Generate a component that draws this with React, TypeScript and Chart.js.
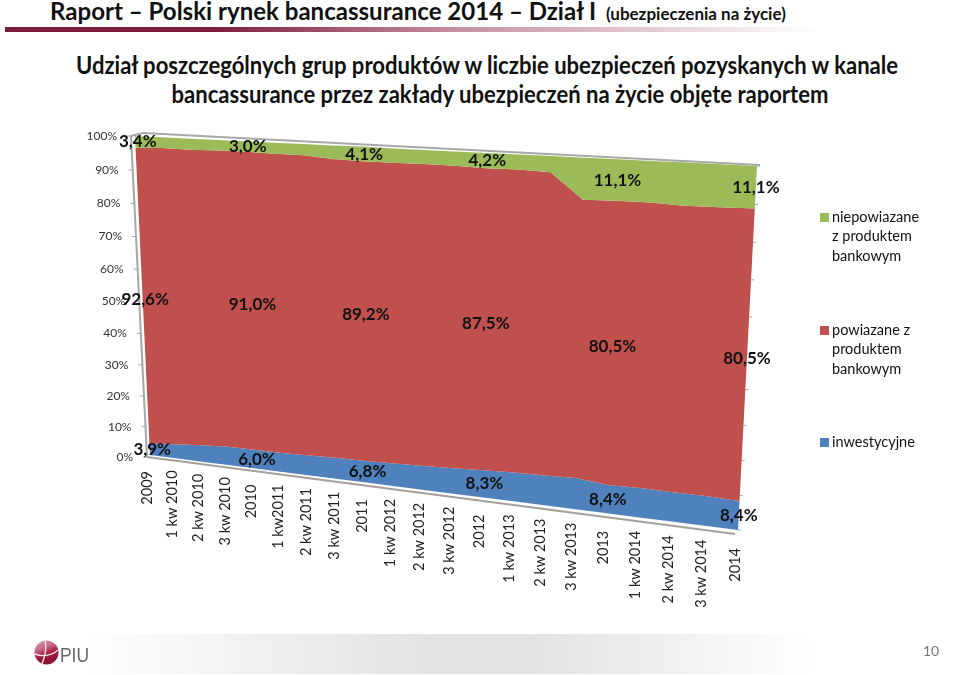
import React, { useEffect, useRef } from "react";
import { Chart, registerables } from "chart.js";

Chart.register(...registerables);

const categories = ["2009","1 kw 2010","2 kw 2010","3 kw 2010","2010","1 kw2011","2 kw 2011","3 kw 2011","2011","1 kw 2012","2 kw 2012","3 kw 2012","2012","1 kw 2013","2 kw 2013","3 kw 2013","2013","1 kw 2014","2 kw 2014","3 kw 2014","2014"];
const floorValues = [0,0,0,0,0,0,0,0,0,0,0,0,0,0,0,0,0,0,0,0,0];
const inwestycyjne = [3.9,4.6,5.3,5.9,6.0,6.0,6.3,6.6,6.8,7.1,7.4,7.8,8.3,8.8,9.0,9.4,8.4,8.7,8.6,8.7,8.4];
const powiazane = [92.6,92.2,91.4,91.0,91.0,90.8,90.5,89.6,89.2,88.9,88.7,88.2,87.5,87.1,86.6,79.2,80.5,80.2,80.0,80.0,80.5];
const niepowiazane = [3.4,3.2,3.3,3.1,3.0,3.2,3.2,3.8,4.1,4.0,3.9,4.0,4.2,4.1,4.4,11.4,11.1,11.1,11.4,11.3,11.1];
const annualIndexes = [0,4,8,12,16,20];

const GREEN = "#9BBB59", RED = "#C0504D", BLUE = "#4F81BD";
const FONT = "Lato, 'Noto Sans', sans-serif";

type P = [number, number];
function homography(bl: P, br: P, tr: P, tl: P) {
  const [x0,y0]=bl,[x1,y1]=br,[x2,y2]=tr,[x3,y3]=tl;
  const dx1=x1-x2, dx2=x3-x2, sx=x0-x1+x2-x3;
  const dy1=y1-y2, dy2=y3-y2, sy=y0-y1+y2-y3;
  const den=dx1*dy2-dx2*dy1;
  const g=(sx*dy2-dx2*sy)/den, h=(dx1*sy-sx*dy1)/den;
  const a=x1-x0+g*x1, b=x3-x0+h*x3, d=y1-y0+g*y1, e=y3-y0+h*y3;
  return (u:number,v:number):P=>{
    const w=g*u+h*v+1;
    return [(a*u+b*v+x0)/w,(d*u+e*v+y0)/w];
  };
}
const area = homography([150,455],[738,530],[757,166],[135,136]);
const frame = homography([147,457],[735,534],[760,165],[131,136]);

const perspectivePlugin = {
  id: "perspective",
  afterDatasetsUpdate(chart:any){
    const xs=chart.scales.x, ys=chart.scales.y;
    chart.data.datasets.forEach((_:any,i:number)=>{
      const meta=chart.getDatasetMeta(i);
      meta.data.forEach((pt:any)=>{
        const u=(pt.x-xs.left)/xs.width, v=(ys.bottom-pt.y)/ys.height;
        const [X,Y]=area(u,v);
        pt.x=X; pt.y=Y;
      });
      if(meta.dataset){ delete meta.dataset._path; }
    });
    xs.getLabelItems(chart.chartArea).forEach((it:any,i:number)=>{
      const [X,Y]=frame(i/(categories.length-1),0);
      it.textOffset=0;
      it.options.translation=[X,Y+(categories[i].length<=4?14:10)];
      it.options.rotation=-Math.PI/2;
      it.options.textAlign="right";
      it.options.textBaseline="middle";
    });
    ys.getLabelItems(chart.chartArea).forEach((it:any,i:number)=>{
      const [X,Y]=frame(0,ys.ticks[i].value/100);
      it.textOffset=0;
      it.options.translation=[X-14,Y];
      it.options.textAlign="right";
      it.options.textBaseline="middle";
    });
  },
  beforeDatasetsDraw(chart:any){
    const c=chart.ctx;
    const seg=(a:P,b:P,col:string,w:number)=>{c.beginPath();c.moveTo(a[0],a[1]);c.lineTo(b[0],b[1]);c.strokeStyle=col;c.lineWidth=w;c.stroke();};
    c.save();
    seg(frame(0,0),frame(1,0),"#A6A09A",2);
    seg(frame(0,0),frame(0,1),"#A8A8A8",2);
    seg([131,136],[143,133],"#A8A8A8",2);
    seg([143,133],frame(1,1),"#A8A8A8",2);
    for(let k=0;k<=10;k++){
      const p=frame(0,k/10);
      seg([p[0]-4,p[1]],[p[0]+1,p[1]],"#A8A8A8",1);
      const q=area(1,k/10);
      seg([q[0],q[1]],[q[0]+3,q[1]],"#A8A8A8",1);
    }
    c.restore();
    // Each band is filled between two stacked lines, on their projected points.
    // (The library's filler clips to x ranges, which would cut the slanted walls.)
    c.save();
    for(let i=1;i<chart.data.datasets.length;i++){
      const up=chart.getDatasetMeta(i).data, lo=chart.getDatasetMeta(i-1).data;
      c.beginPath();
      up.forEach((p:any,k:number)=>k?c.lineTo(p.x,p.y):c.moveTo(p.x,p.y));
      for(let k=lo.length-1;k>=0;k--) c.lineTo(lo[k].x,lo[k].y);
      c.closePath();
      c.fillStyle=chart.data.datasets[i].backgroundColor;
      c.fill();
    }
    c.restore();
  },
  afterDatasetsDraw(chart:any){
    const c=chart.ctx;
    c.save();
    c.font=`bold 17px ${FONT}`;
    c.fillStyle="#111";
    c.textAlign="center";c.textBaseline="middle";
    annualIndexes.forEach(i=>{
      const u=i/(categories.length-1);
      const b=inwestycyjne[i], r=powiazane[i], g=niepowiazane[i];
      const fmt=(n:number)=>n.toFixed(1).replace(".",",")+"%";
      [[b/2,b],[b+r/2,r],[100-g/2,g]].forEach(([mid,val])=>{
        const [X,Y]=area(u,mid/100);
        c.fillText(fmt(val),X+2.5*(1-u),Y);
      });
    });
    c.restore();
  },
};

const textBase: React.CSSProperties = { position:"absolute", whiteSpace:"nowrap", fontFamily:FONT, color:"#111", lineHeight:1 };

function Txt({x,y,size,bold,color,center,sx,children}:any){
  return <div style={{...textBase,left:x,top:y,fontSize:size,fontWeight:bold?700:400,color:color||"#111",
    transform:`translate(${center?"-50%":"0"},-50%) scaleX(${sx||1})`,transformOrigin:center?"center":"left center"}}>{children}</div>;
}

export default function App(){
  const ref=useRef<HTMLCanvasElement>(null);
  useEffect(()=>{
    const tickFont={family:FONT};
    const common={pointRadius:0,borderWidth:0,tension:0,fill:false,clip:false as any};
    const chart=new Chart(ref.current!,{
      type:"line",
      data:{labels:categories,datasets:[
        {label:"podstawa",data:floorValues,backgroundColor:"transparent",...common},
        {label:"inwestycyjne",data:inwestycyjne,backgroundColor:BLUE,...common},
        {label:"powiazane z produktem bankowym",data:powiazane,backgroundColor:RED,...common},
        {label:"niepowiazane z produktem bankowym",data:niepowiazane,backgroundColor:GREEN,...common},
      ]},
      options:{
        animation:false,responsive:false,
        layout:{padding:0},
        plugins:{legend:{display:false},tooltip:{enabled:false},title:{display:false}},
        scales:{
          x:{type:"category",offset:false,grid:{display:false},border:{display:false},
             ticks:{mirror:true,autoSkip:false,maxRotation:90,minRotation:90,color:"#222",font:{...tickFont,size:14.5}},
             afterFit:(s:any)=>{s.height=0;}},
          y:{stacked:true,min:0,max:100,grid:{display:false},border:{display:false},
             ticks:{mirror:true,stepSize:10,color:"#333",font:{...tickFont,size:12},callback:(v:any)=>v+"%"},
             afterFit:(s:any)=>{s.width=0;}},
        },
      } as any,
      plugins:[perspectivePlugin as any],
    });
    return ()=>chart.destroy();
  },[]);
  return (
    <div style={{position:"absolute",left:0,top:0,width:960,height:675,background:"#fff",overflow:"hidden"}}>
      <div style={{position:"absolute",left:5,top:27,width:815,height:5,background:"linear-gradient(90deg,#7A1C3A 0%,#7A1C3A 25%,#C58FA0 55%,#fff 100%)"}}/>
      <div style={{position:"absolute",left:0,top:634,width:960,height:40,background:"linear-gradient(90deg,#fff 8%,#E2E2E2 45%,#E2E2E2 55%,#fff 85%)"}}/>
      <Txt x={50} y={10} size={25} bold sx={0.962}>Raport – Polski rynek bancassurance 2014 – Dział I</Txt>
      <Txt x={606} y={13} size={17} bold sx={1.0}>(ubezpieczenia na życie)</Txt>
      <Txt x={487} y={65} size={24.5} bold center sx={0.90}>Udział poszczególnych grup produktów w liczbie ubezpieczeń pozyskanych w kanale</Txt>
      <Txt x={500} y={94} size={24.5} bold center sx={0.90}>bancassurance przez zakłady ubezpieczeń na życie objęte raportem</Txt>
      <canvas ref={ref} width={960} height={675} style={{position:"absolute",left:0,top:0,width:960,height:675}}/>
      <div style={{position:"absolute",left:820,top:213,width:9,height:9,background:GREEN}}/>
      <div style={{position:"absolute",left:820,top:326,width:9,height:9,background:RED}}/>
      <div style={{position:"absolute",left:820,top:438,width:9,height:9,background:BLUE}}/>
      <Txt x={832} y={217} size={14.5}>niepowiazane</Txt>
      <Txt x={832} y={236} size={14.5}>z produktem</Txt>
      <Txt x={832} y={256} size={14.5}>bankowym</Txt>
      <Txt x={832} y={330} size={14.5}>powiazane z</Txt>
      <Txt x={832} y={349} size={14.5}>produktem</Txt>
      <Txt x={832} y={369} size={14.5}>bankowym</Txt>
      <Txt x={832} y={442} size={14.5}>inwestycyjne</Txt>
      <svg style={{position:"absolute",left:33,top:640}} width={60} height={28}>
        <defs><linearGradient id="lg" x1="0" y1="0" x2="0.4" y2="1"><stop offset="0" stopColor="#D9A0B0"/><stop offset="0.4" stopColor="#C46A82"/><stop offset="0.65" stopColor="#A51C3E"/><stop offset="1" stopColor="#8A1232"/></linearGradient></defs>
        <circle cx={13.5} cy={12.5} r={12} fill="url(#lg)"/>
        <path d="M2 14 C9 17 18 16 25 10 M9 24 C12 16 14 7 12 1" stroke="#F4E6EA" strokeWidth={1.4} fill="none"/>
        <text x={27} y={22} fontFamily="'Liberation Sans Narrow','Liberation Sans',sans-serif" fontSize={21} fill="#666" textLength={29} lengthAdjust="spacingAndGlyphs">PIU</text>
      </svg>
      <Txt x={923} y={651} size={14} color="#777">10</Txt>
    </div>
  );
}
